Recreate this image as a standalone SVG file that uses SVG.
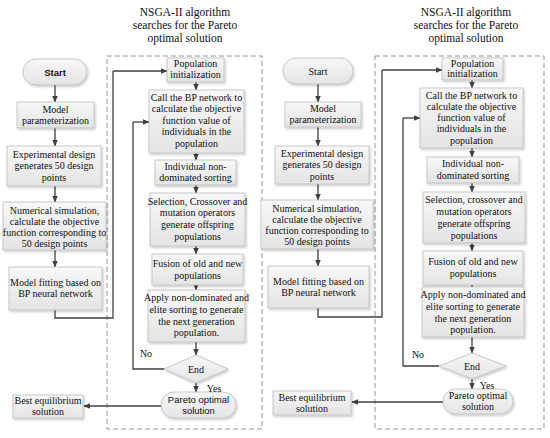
<svg xmlns="http://www.w3.org/2000/svg" width="550" height="438" viewBox="0 0 550 438">
<defs>
<linearGradient id="g" x1="0" y1="0" x2="0" y2="1"><stop offset="0" stop-color="#f8f8f8"/><stop offset="1" stop-color="#e4e4e4"/></linearGradient>
<filter id="sh" x="-10%" y="-10%" width="130%" height="140%"><feDropShadow dx="1.2" dy="1.5" stdDeviation="0.8" flood-color="#000" flood-opacity="0.22"/></filter>
<marker id="ah" viewBox="0 0 10 10" refX="9" refY="5" markerWidth="7" markerHeight="7" markerUnits="userSpaceOnUse" orient="auto"><path d="M0,1 L10,5 L0,9 z" fill="#404040"/></marker>
<style>
.b{fill:url(#g);stroke:#bdbdbd;stroke-width:0.8;filter:url(#sh)}
.t{font-family:"Liberation Serif","Times New Roman",serif;font-size:10px;fill:#111;text-anchor:middle}
.s{font-family:"Liberation Sans",Arial,sans-serif;font-size:9.5px;fill:#111;text-anchor:middle}
.h{font-family:"Liberation Serif","Times New Roman",serif;font-size:11.5px;fill:#111;text-anchor:middle}
.c{fill:none;stroke:#404040;stroke-width:1.3}
.a{fill:none;stroke:#404040;stroke-width:1.3;marker-end:url(#ah)}
.d{fill:none;stroke:#8a8a8a;stroke-width:0.9;stroke-dasharray:5,3}
</style>
</defs>
<rect width="550" height="438" fill="#fff"/>
<g id="title1"><text class="h" x="185" y="16">NSGA-II algorithm</text><text class="h" x="185" y="29">searches for the Pareto</text><text class="h" x="185" y="42">optimal solution</text></g>
<g id="title2"><text class="h" x="466" y="16">NSGA-II algorithm</text><text class="h" x="466" y="29">searches for the Pareto</text><text class="h" x="466" y="42">optimal solution</text></g>
<g id="frames"><rect class="d" x="107" y="56" width="155" height="373"/><rect class="d" x="375" y="56" width="169" height="373"/></g>
<g id="connectors">
<path class="a" d="M55,85 V102"/>
<path class="a" d="M55,128 V146"/>
<path class="a" d="M55,186 V202"/>
<path class="a" d="M55,250 V267"/>
<path class="c" d="M55,310 V318 H113 V71"/>
<path class="a" d="M113,71 H167"/>
<path class="a" d="M196,82 V90"/>
<path class="a" d="M196,153 V160"/>
<path class="a" d="M196,185 V193"/>
<path class="a" d="M196,246 V254"/>
<path class="a" d="M196,285 V290"/>
<path class="a" d="M196,342 V355"/>
<path class="c" d="M164,369 H133 V122"/>
<path class="a" d="M133,122 H149"/>
<path class="a" d="M196,383 V392"/>
<path class="a" d="M161,406 H84"/>
<path class="a" d="M318,84 V102"/>
<path class="a" d="M318,127 V146"/>
<path class="a" d="M318,184 V200"/>
<path class="a" d="M318,249 V266"/>
<path class="c" d="M318,308 V317 H382 V70"/>
<path class="a" d="M382,70 H442"/>
<path class="a" d="M472,80 V88"/>
<path class="a" d="M472,148 V157"/>
<path class="a" d="M472,183 V192"/>
<path class="a" d="M472,243 V251"/>
<path class="a" d="M472,285 V287"/>
<path class="a" d="M472,337 V353"/>
<path class="c" d="M439,366 H403 V118"/>
<path class="a" d="M403,118 H420"/>
<path class="a" d="M472,379 V389"/>
<path class="a" d="M443,402 H352"/>
</g>
<g id="start1"><rect class="b" x="23" y="59" width="64" height="26" rx="13"/><text class="s" x="55" y="76" font-weight="bold">Start</text></g>
<g id="param1"><rect class="b" x="17" y="102" width="77" height="26"/><text class="t" x="55.5" y="113">Model</text><text class="t" x="55.5" y="124">parameterization</text></g>
<g id="exp1"><rect class="b" x="7" y="146" width="94" height="40"/><text class="t" x="54" y="158">Experimental design</text><text class="t" x="54" y="169">generates 50 design</text><text class="t" x="54" y="181">points</text></g>
<g id="num1"><rect class="b" x="3" y="202" width="103" height="48"/><text class="t" x="54.5" y="214">Numerical simulation,</text><text class="t" x="54.5" y="225">calculate the objective</text><text class="t" x="54.5" y="236">function corresponding to</text><text class="t" x="54.5" y="247">50 design points</text></g>
<g id="fit1"><rect class="b" x="9" y="267" width="93" height="43"/><text class="t" x="55.5" y="286">Model fitting based on</text><text class="t" x="55.5" y="297">BP neural network</text></g>
<g id="best1"><rect class="b" x="13" y="395" width="70" height="23"/><text class="t" x="48" y="404">Best equilibrium</text><text class="t" x="48" y="415">solution</text></g>
<g id="init1"><rect class="b" x="167" y="58" width="57" height="24"/><text class="t" x="195.5" y="67">Population</text><text class="t" x="195.5" y="78">initialization</text></g>
<g id="call1"><rect class="b" x="149" y="90" width="95" height="63"/><text class="t" x="196.5" y="101">Call the BP network to</text><text class="t" x="196.5" y="112">calculate the objective</text><text class="t" x="196.5" y="124">function value of</text><text class="t" x="196.5" y="135">individuals in the</text><text class="t" x="196.5" y="147">population</text></g>
<g id="ind1"><rect class="b" x="155" y="160" width="81" height="25"/><text class="t" x="195.5" y="170">Individual non-</text><text class="t" x="195.5" y="181">dominated sorting</text></g>
<g id="sel1"><rect class="b" x="150" y="193" width="95" height="53"/><text class="t" x="197.5" y="205">Selection, Crossover and</text><text class="t" x="197.5" y="216">mutation operators</text><text class="t" x="197.5" y="228">generate offspring</text><text class="t" x="197.5" y="240">populations</text></g>
<g id="fus1"><rect class="b" x="152" y="254" width="91" height="31"/><text class="t" x="197.5" y="267">Fusion of old and new</text><text class="t" x="197.5" y="279">populations</text></g>
<g id="app1"><rect class="b" x="148" y="290" width="97" height="52"/><text class="t" x="196.5" y="301">Apply non-dominated and</text><text class="t" x="196.5" y="313">elite sorting to generate</text><text class="t" x="196.5" y="325">the next generation</text><text class="t" x="196.5" y="336">population.</text></g>
<g id="end1"><polygon class="b" points="196,355 228,369 196,383 164,369"/><text class="t" x="196" y="373">End</text></g>
<g id="pareto1"><rect class="b" x="161" y="392" width="75" height="26" rx="13"/><text class="s" x="198.5" y="403">Pareto optimal</text><text class="s" x="198.5" y="414">solution</text></g>
<text class="t" x="146" y="357">No</text>
<text class="t" x="214" y="392">Yes</text>
<g id="start2"><rect class="b" x="283" y="58" width="70" height="26" rx="13"/><text class="t" x="318" y="75" font-size="11">Start</text></g>
<g id="param2"><rect class="b" x="285" y="102" width="76" height="25"/><text class="t" x="323" y="112">Model</text><text class="t" x="323" y="123">parameterization</text></g>
<g id="exp2"><rect class="b" x="275" y="146" width="94" height="38"/><text class="t" x="322" y="157">Experimental design</text><text class="t" x="322" y="168">generates 50 design</text><text class="t" x="322" y="180">points</text></g>
<g id="num2"><rect class="b" x="261" y="200" width="112" height="49"/><text class="t" x="317" y="212">Numerical simulation,</text><text class="t" x="317" y="223">calculate the objective</text><text class="t" x="317" y="234">function corresponding to</text><text class="t" x="317" y="245">50 design points</text></g>
<g id="fit2"><rect class="b" x="268" y="266" width="101" height="42"/><text class="t" x="318.5" y="285">Model fitting based on</text><text class="t" x="318.5" y="296">BP neural network</text></g>
<g id="best2"><rect class="b" x="273" y="391" width="78" height="24"/><text class="t" x="312" y="401">Best equilibrium</text><text class="t" x="312" y="412">solution</text></g>
<g id="init2"><rect class="b" x="442" y="58" width="61" height="22"/><text class="t" x="472.5" y="67">Population</text><text class="t" x="472.5" y="77">initialization</text></g>
<g id="call2"><rect class="b" x="420" y="88" width="103" height="60"/><text class="t" x="471.5" y="99">Call the BP network to</text><text class="t" x="471.5" y="110">calculate the objective</text><text class="t" x="471.5" y="121">function value of</text><text class="t" x="471.5" y="132">individuals in the</text><text class="t" x="471.5" y="144">population</text></g>
<g id="ind2"><rect class="b" x="427" y="157" width="92" height="26"/><text class="t" x="473" y="167">Individual non-</text><text class="t" x="473" y="179">dominated sorting</text></g>
<g id="sel2"><rect class="b" x="423" y="192" width="102" height="51"/><text class="t" x="474" y="203">Selection, crossover and</text><text class="t" x="474" y="215">mutation operators</text><text class="t" x="474" y="227">generate offspring</text><text class="t" x="474" y="239">populations</text></g>
<g id="fus2"><rect class="b" x="423" y="251" width="100" height="34"/><text class="t" x="473" y="265">Fusion of old and new</text><text class="t" x="473" y="277">populations</text></g>
<g id="app2"><rect class="b" x="422" y="287" width="102" height="50"/><text class="t" x="473" y="298">Apply non-dominated and</text><text class="t" x="473" y="310">elite sorting to generate</text><text class="t" x="473" y="322">the next generation</text><text class="t" x="473" y="333">population.</text></g>
<g id="end2"><polygon class="b" points="472,353 506,366 472,379 439,366"/><text class="t" x="472" y="370">End</text></g>
<g id="pareto2"><rect class="b" x="443" y="389" width="70" height="25" rx="12.5"/><text class="t" x="478" y="399">Pareto optimal</text><text class="t" x="478" y="410">solution</text></g>
<text class="t" x="418" y="358">No</text>
<text class="t" x="487" y="389">Yes</text>
</svg>
